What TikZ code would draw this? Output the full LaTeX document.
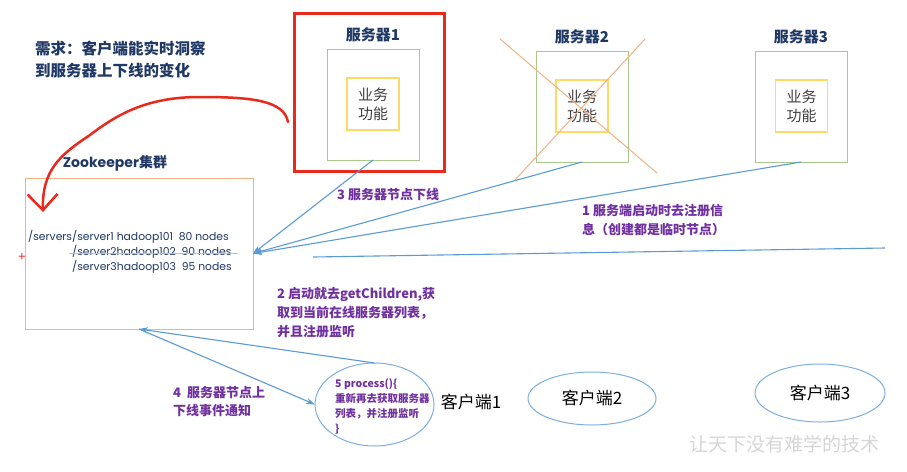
\documentclass[tikz,border=0pt]{standalone}
\usepackage{fontspec}
\setmainfont{Noto Sans CJK SC}
\newfontfamily\latinfont{Poppins}
\usetikzlibrary{arrows.meta,calc,shapes.geometric}
\definecolor{navy}{HTML}{1F3864}
\definecolor{purp}{HTML}{7030A0}
\definecolor{lblue}{HTML}{5B9BD5}
\definecolor{gbor}{HTML}{A9C98A}
\definecolor{ybor}{HTML}{FFD966}
\definecolor{obor}{HTML}{F4B183}
\definecolor{rred}{HTML}{E8291C}
\definecolor{wm}{HTML}{D6D6D6}
\begin{document}
\begin{tikzpicture}[x=1pt,y=-1pt,
  title/.style={font=\fontsize{15}{18}\selectfont\bfseries, text=navy, inner sep=0},
  gbox/.style={draw=gbor, line width=1pt, minimum width=92pt, minimum height=111pt, inner sep=0, outer sep=0},
  ybox/.style={draw=ybor, line width=1.5pt, minimum width=52pt, minimum height=52pt, inner sep=0, outer sep=0, align=center, font=\fontsize{15}{19}\selectfont, text=black!75},
  lbl/.style={font=\fontsize{13}{19}\selectfont\bfseries, text=purp, align=left, inner sep=0, anchor=west},
  zktext/.style={font=\latinfont\fontsize{10.8}{12}\selectfont, text=navy, inner sep=0, anchor=west},
  barrow/.style={draw=lblue, line width=1.1pt, -{Stealth[length=9pt,width=6pt]}},
  bline/.style={draw=lblue, line width=1.1pt},
  client/.style={ellipse, draw=lblue!80, line width=1pt, inner sep=0, outer sep=0, font=\fontsize{17}{20}\selectfont},
  cross/.style={draw=obor, line width=1pt}
]
\path[use as bounding box, fill=white] (0,0) rectangle (907,471);

% requirement text
\node[font=\fontsize{15.5}{22}\selectfont\bfseries, text=navy, align=left, anchor=west, inner sep=0] (req) at (35,60) {需求：客户端能实时洞察\\到服务器上下线的变化};

% servers
\node[draw=rred, line width=3pt, minimum width=150pt, minimum height=158pt, inner sep=0, outer sep=0] (red1) at (369,92) {};
\node[gbox] (g1) at (373,104.5) {};
\node[ybox] (y1) at (373,104) {业务\\功能};
\node[title] (t1) at (373,35) {服务器1};

\node[gbox] (g2) at (582,106.5) {};
\node[ybox] (y2) at (582,106) {业务\\功能};
\node[title] (t2) at (582,37) {服务器2};

\node[gbox] (g3) at (801,106.5) {};
\node[ybox] (y3) at (801.5,106) {业务\\功能};
\node[title] (t3) at (801,37) {服务器3};

% cross on server 2
\coordinate (xa1) at (500,39); \coordinate (xa2) at (657,173);
\coordinate (xb1) at (645,39); \coordinate (xb2) at (515,180);
\draw[cross] (xa1) -- (xa2);
\draw[cross] (xb1) -- (xb2);

% zookeeper
\node[draw=obor, line width=1pt, minimum width=228pt, minimum height=151pt, inner sep=0, outer sep=0] (zk) at (139,253.5) {};
\node[font=\latinfont\fontsize{14}{16}\selectfont\bfseries, text=navy, inner sep=0] (zkt) at (115,163) {Zookeeper{\rmfamily 集群}};
\node[zktext] (s1) at (28,237) {/servers/server1 hadoop101\ \ 80 nodes};
\node[zktext] (s2) at (72,252) {/server2hadoop102\ \ 90 nodes};
\node[zktext] (s3) at (72,267) {/server3hadoop103\ \ 95 nodes};
\draw[draw=obor, line width=1pt] ($(s2.west)+(-3,1)$) -- ($(s2.east)+(6,1)$);
\node[text=rred, font=\fontsize{13}{13}\selectfont, inner sep=0] (plus) at (22,257) {+};

% red freehand arrow
\coordinate (rs) at (288,122);
\coordinate (re) at (43,212);
\draw[draw=rred, line width=2.5pt, line cap=round, -{Straight Barb[length=16pt,width=30pt,line width=2.5pt]}]
  (rs) .. controls (284,100) and (250,97) .. (200,97)
  .. controls (150,97) and (120,112) .. (90,135)
  .. controls (60,155) and (42,170) .. (re);

% blue arrows from servers
\draw[barrow] (g1.south) -- (zk.east);
\draw[barrow] (g2.south) -- (zk.east);
\draw[barrow] (g3.south) -- (zk.east);
\coordinate (la) at (313,257); \coordinate (lb) at (885,248);
\draw[bline] (la) -- (lb);

% labels
\node[lbl] (l3) at (337,195) {3 服务器节点下线};
\node[lbl] (l1) at (582,220) {1 服务端启动时去注册信\\息（创建都是临时节点）};
\node[lbl] (l2) at (277,312.5) {2 启动就去getChildren,获\\取到当前在线服务器列表，\\并且注册监听};
\node[lbl, font=\fontsize{13}{18}\selectfont\bfseries] (l4) at (173,402) {4\ \ 服务器节点上\\下线事件通知};

% clients
\node[client, minimum width=119pt, minimum height=83pt] (c1) at (374.5,404.5) {};
\node[lbl, font=\fontsize{10.5}{15}\selectfont\bfseries] (c1t) at (335,406) {5 process()\{\\重新再去获取服务器\\列表，并注册监听\\\}};
\node[font=\fontsize{17}{20}\selectfont, inner sep=0] (c1n) at (471,402) {客户端1};
\node[client, minimum width=128pt, minimum height=53pt] (c2) at (592,398.5) {客户端2};
\node[client, minimum width=130pt, minimum height=58pt] (c3) at (820,393) {客户端3};

\draw[barrow] (c1.north) -- (zk.south);
\draw[barrow] (zk.south) -- (c1.west);

% watermark
\node[text=wm, font=\fontsize{19}{20}\selectfont, inner sep=0] (wmk) at (784,444) {让天下没有难学的技术};
\end{tikzpicture}
\end{document}
